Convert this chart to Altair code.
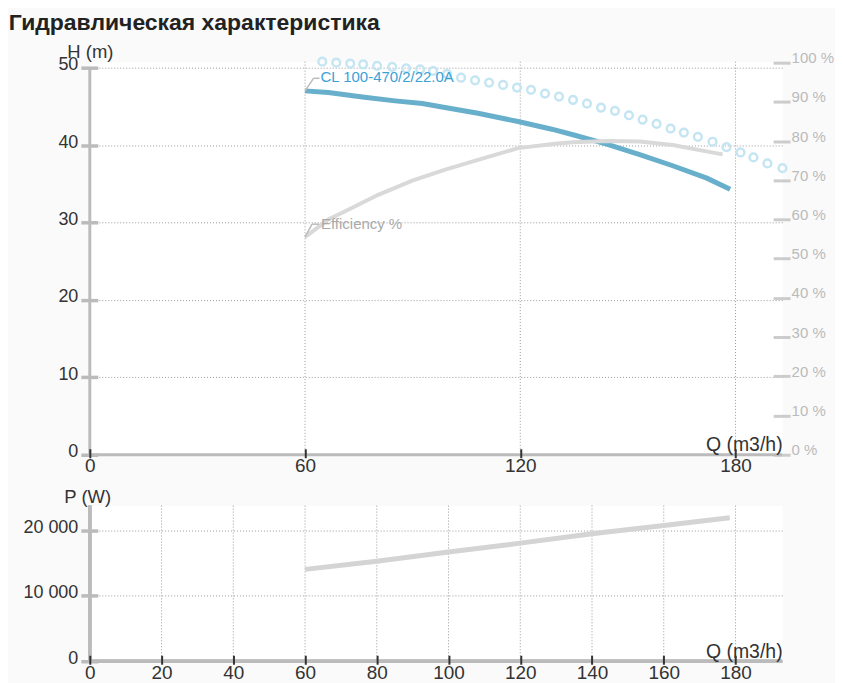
import altair as alt
import pandas as pd

FONT = "Liberation Sans"
TITLE = "Гидравлическая характеристика"

# ---- data ----
q_head = [60.0, 66.5, 76.0, 85.1, 92.7, 99.0, 108.2, 119.4, 128.8, 134.7, 144.1, 153.3, 162.5, 172.0, 178.5]
h_head = [47.0, 46.78, 46.22, 45.71, 45.36, 44.85, 44.11, 43.04, 42.05, 41.33, 40.12, 38.75, 37.33, 35.73, 34.3]

q_pts = [64.8, 68.7, 72.6, 76.2, 80.1, 84.3, 88.2, 92.1, 95.7, 99.6, 103.5, 107.4, 111.3, 115.2, 119.1,
         123.0, 126.9, 130.8, 134.7, 138.6, 142.5, 146.4, 150.3, 154.1, 158.0, 161.9, 165.6, 169.5,
         173.6, 177.5, 181.4, 185.0, 188.9, 193.1]
h_pts = [50.77, 50.64, 50.52, 50.43, 50.22, 50.10, 49.91, 49.78, 49.57, 49.19, 48.71, 48.36, 48.07, 47.77,
         47.42, 47.13, 46.65, 46.26, 45.84, 45.36, 44.85, 44.42, 43.85, 43.30, 42.74, 42.14, 41.62, 41.07,
         40.43, 39.74, 39.05, 38.40, 37.63, 37.02]

q_eff = [60.0, 66.5, 71.2, 80.4, 89.9, 99.1, 108.2, 119.4, 129.7, 134.7, 144.1, 153.3, 162.5, 170.0, 176.4]
e_eff = [55.5, 60.0, 62.1, 66.3, 69.9, 72.7, 75.2, 78.2, 79.3, 79.7, 80.0, 79.9, 79.0, 77.7, 76.6]

q_pow = [60.0, 80.0, 100.0, 120.0, 140.0, 160.0, 178.4]
p_pow = [14050, 15300, 16700, 18060, 19500, 20760, 21940]

head_label = "CL 100-470/2/22.0A"
eff_label = "Efficiency %"

x_ticks_top = [0, 60, 120, 180]
x_ticks_bottom = [0, 20, 40, 60, 80, 100, 120, 140, 160, 180]
h_ticks = [0, 10, 20, 30, 40, 50]
e_ticks = [0, 10, 20, 30, 40, 50, 60, 70, 80, 90, 100]
p_ticks = [0, 10000, 20000]

X_MAX = 193
H_MAX = 50.77
E_MAX = 100.25
P_MAX = 23800

# ---- style ----
W = 694
H1 = 394
H2 = 156
BLUE = "#67afcb"
BLUE_TXT = "#3ba2d6"
CIRCLE = "#c6e5f3"
GRAY_LINE = "#d9d9d9"
AXIS_GRAY = "#bbbbbb"
GRID = "#9a9a9a"
TXT = "#333333"

xscale = alt.Scale(domain=[0, X_MAX], nice=False, zero=False)
hscale = alt.Scale(domain=[0, H_MAX], nice=False)
escale = alt.Scale(domain=[0, E_MAX], nice=False)
pscale = alt.Scale(domain=[0, P_MAX], nice=False)


def x_axis(values):
    return alt.Axis(values=values, offset=-6, tickSize=9, tickColor=TXT, tickWidth=2, domain=False,
                    grid=False, labelFontSize=19, labelColor=TXT, labelPadding=-1, labelFont=FONT,
                    labelFlush=False, labelOverlap=False, title="Q (m3/h)", titleX=W, titleY=2,
                    titleAlign="right", titleBaseline="alphabetic", titleFontSize=19.5,
                    titleFontWeight="normal", titleColor=TXT, titleFont=FONT, zindex=1)


def y_axis(values, title, tx, ty, expr):
    return alt.Axis(values=values, offset=-8, tickSize=17, tickColor=AXIS_GRAY, tickWidth=3.5,
                    domain=False, grid=True, gridColor=GRID, gridDash=[1, 2], gridWidth=1,
                    labelFontSize=18, labelColor=TXT, labelPadding=3, labelBaseline="alphabetic",
                    labelOffset=2, labelFont=FONT, labelFlush=False, labelOverlap=False, labelExpr=expr,
                    title=title, titleAngle=0, titleX=tx, titleY=ty, titleAlign="left",
                    titleBaseline="alphabetic", titleFontSize=18.5, titleFontWeight="normal",
                    titleColor=TXT, titleFont=FONT)


E_AXIS = alt.Axis(values=e_ticks, orient="right", offset=-9, tickSize=17, tickColor="#cccccc",
                  tickWidth=3, domain=False, grid=False, labelFontSize=15, labelColor="#bbbbbb",
                  labelPadding=1, labelBaseline="alphabetic", labelFont=FONT, labelFlush=False,
                  labelOverlap=False, labelExpr="datum.value + ' %'", title="", tickCount=11)

head_df = pd.DataFrame({"Q": q_head, "H": h_head})
pts_df = pd.DataFrame({"Q": q_pts, "H": h_pts})
eff_df = pd.DataFrame({"Q": q_eff, "E": e_eff})
pow_df = pd.DataFrame({"Q": q_pow, "P": p_pow})
head_lab_df = pd.DataFrame({"Q": [q_head[0]], "H": [h_head[0]], "label": [head_label]})
eff_lab_df = pd.DataFrame({"Q": [q_eff[0]], "E": [e_eff[0]], "label": [eff_label]})
xgrid_top = pd.DataFrame({"Q": x_ticks_top[1:]})
xgrid_bot = pd.DataFrame({"Q": x_ticks_bottom[1:]})

XN = lambda: alt.X("Q:Q", scale=xscale)
YE = lambda: alt.Y("E:Q", scale=escale, axis=E_AXIS)

# ---------------- top chart ----------------
vgrid_top = alt.Chart(xgrid_top).mark_rule(color=GRID, strokeDash=[1, 2], strokeWidth=1).encode(
    x=alt.X("Q:Q", scale=xscale, axis=x_axis(x_ticks_top))
)
pts = alt.Chart(pts_df).mark_point(filled=False, color=CIRCLE, size=60, strokeWidth=2.5, opacity=1).encode(
    x=XN(), y=alt.Y("H:Q", scale=hscale, axis=y_axis(h_ticks, "H (m)", -31, -4, "datum.label"))
)
head_line = alt.Chart(head_df).mark_line(color=BLUE, strokeWidth=5).encode(
    x=XN(), y=alt.Y("H:Q", scale=hscale)
)
base_rule = alt.Chart(head_lab_df).mark_rule(color=AXIS_GRAY, strokeWidth=3).encode(
    x=alt.XDatum(0, scale=xscale), x2=alt.X2Datum(X_MAX),
    y=alt.YDatum(0, scale=hscale)
)
yaxis_rule = alt.Chart(head_lab_df).mark_rule(color=AXIS_GRAY, strokeWidth=3).encode(
    x=alt.XDatum(0, scale=xscale),
    y=alt.YDatum(0, scale=hscale), y2=alt.Y2Datum(h_ticks[-1])
)
head_conn1 = alt.Chart(head_lab_df).mark_rule(color=AXIS_GRAY, strokeWidth=1.5, x2Offset=8.5, y2Offset=-12.6).encode(
    x=XN(), y=alt.Y("H:Q", scale=hscale), x2="Q:Q", y2="H:Q"
)
head_conn2 = alt.Chart(head_lab_df).mark_rule(color=AXIS_GRAY, strokeWidth=1.5, xOffset=8.5, yOffset=-12.6,
                                              x2Offset=14.5, y2Offset=-12.6).encode(
    x=XN(), y=alt.Y("H:Q", scale=hscale), x2="Q:Q", y2="H:Q"
)
head_text = alt.Chart(head_lab_df).mark_text(align="left", baseline="alphabetic", dx=15.5, dy=-9.3,
                                             fontSize=15, color=BLUE_TXT, font=FONT).encode(
    x=XN(), y=alt.Y("H:Q", scale=hscale), text="label:N"
)
h_group = alt.layer(vgrid_top, pts, head_line, base_rule, yaxis_rule, head_conn1, head_conn2, head_text)

eff_line = alt.Chart(eff_df).mark_line(color=GRAY_LINE, strokeWidth=4).encode(x=XN(), y=YE())
eff_conn1 = alt.Chart(eff_lab_df).mark_rule(color=AXIS_GRAY, strokeWidth=1.5, x2Offset=7, y2Offset=-13).encode(
    x=XN(), y=YE(), x2="Q:Q", y2="E:Q"
)
eff_conn2 = alt.Chart(eff_lab_df).mark_rule(color=AXIS_GRAY, strokeWidth=1.5, xOffset=7, yOffset=-13,
                                            x2Offset=14, y2Offset=-13).encode(
    x=XN(), y=YE(), x2="Q:Q", y2="E:Q"
)
eff_text = alt.Chart(eff_lab_df).mark_text(align="left", baseline="alphabetic", dx=16, dy=-8.5,
                                           fontSize=15, color="#aaaaaa", font=FONT).encode(
    x=XN(), y=YE(), text="label:N"
)
e_group = alt.layer(eff_line, eff_conn1, eff_conn2, eff_text)

top = alt.layer(h_group, e_group).resolve_scale(y="independent").properties(width=W, height=H1)

# ---------------- bottom chart ----------------
vgrid_bot = alt.Chart(xgrid_bot).mark_rule(color=GRID, strokeDash=[1, 2], strokeWidth=1).encode(
    x=alt.X("Q:Q", scale=xscale, axis=x_axis(x_ticks_bottom))
)
pow_line = alt.Chart(pow_df).mark_line(color="#d4d4d4", strokeWidth=5).encode(
    x=XN(),
    y=alt.Y("P:Q", scale=pscale,
            axis=y_axis(p_ticks, "P (W)", -34, -3, "replace(format(datum.value, ','), ',', ' ')"))
)
base_rule_b = alt.Chart(pow_df).mark_rule(color=AXIS_GRAY, strokeWidth=3).encode(
    x=alt.XDatum(0, scale=xscale), x2=alt.X2Datum(X_MAX),
    y=alt.YDatum(0, scale=pscale)
)
yaxis_rule_b = alt.Chart(pow_df).mark_rule(color=AXIS_GRAY, strokeWidth=3).encode(
    x=alt.XDatum(0, scale=xscale),
    y=alt.YDatum(0, scale=pscale), y2=alt.Y2Datum(P_MAX)
)
bottom = alt.layer(vgrid_bot, pow_line, base_rule_b, yaxis_rule_b).properties(width=W, height=H2)

chart = alt.vconcat(
    top, bottom, spacing=10,
    title=alt.TitleParams(TITLE, anchor="start", fontSize=23, fontWeight="bold", color="#222222",
                          font=FONT, dx=-13.7, offset=7)
).configure(
    background="#fafafa", padding={"left": 0, "top": 3, "right": 0, "bottom": 0}
).configure_view(fill="white", stroke="transparent")

chart.save("out.html", embed_options={"renderer": "svg", "actions": False})
